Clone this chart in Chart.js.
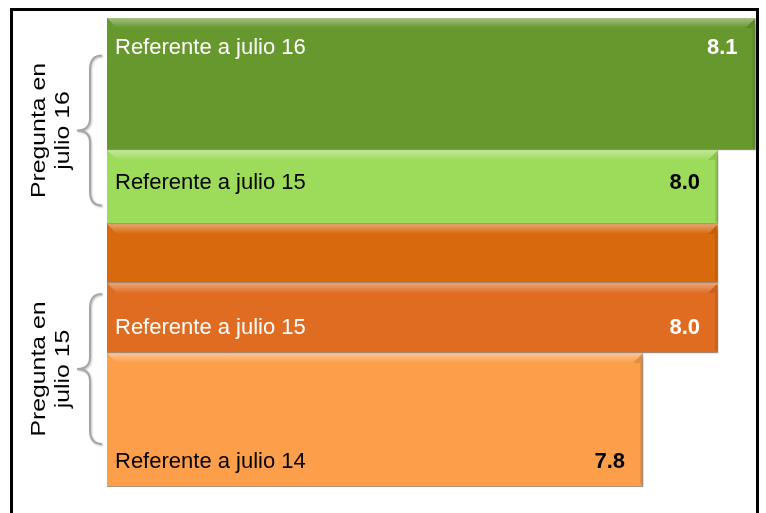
<!DOCTYPE html>
<html>
<head>
<meta charset="utf-8">
<script src="https://cdn.jsdelivr.net/npm/chart.js@4"></script>
<style>
  body { margin: 0; background: #fff; }
  #wrap { position: relative; width: 766px; height: 513px; overflow: hidden; }
  #frame { position: absolute; left: 10px; top: 8px; width: 743px; height: 520px; border: 3px solid #000; pointer-events: none; }
</style>
</head>
<body>
<div id="wrap">
  <canvas id="bars"></canvas>
  <div id="frame"></div>
</div>
<script>
// data
const barLabels = ['Referente a julio 16', 'Referente a julio 15', '', 'Referente a julio 15', 'Referente a julio 14'];
const barValues = [8.1, 8.0, 8.0, 8.0, 7.8];
const valueLabels = ['8.1', '8.0', '', '8.0', '7.8'];
const groupLabels = [['Pregunta en', 'julio 16'], ['Pregunta en', 'julio 15']];
const groupBars = [[0, 1], [3, 4]];

// style
const barColors = ['#67982e', '#9ddc5a', '#d86a0d', '#e06c22', '#fd9e4b'];
const textColors = ['#fff', '#000', '#fff', '#fff', '#000'];
const barHeights = [132, 74, 59, 70, 134];
const labelAnchor = ['top', 'middle', 'none', 'bottom', 'bottom'];

const totalHeight = barHeights.reduce((a, b) => a + b, 0);
const centers = [];
let acc = 0;
barHeights.forEach(h => { centers.push(acc + h / 2); acc += h; });

const shadowPlugin = {
  id: 'shadow',
  beforeDatasetsDraw(chart) {
    const ctx = chart.ctx;
    ctx.save();
    ctx.shadowColor = 'rgba(0,0,0,0.4)';
    ctx.shadowBlur = 6;
    ctx.shadowOffsetX = 3;
    ctx.shadowOffsetY = 3;
  },
  afterDatasetsDraw(chart) {
    const ctx = chart.ctx;
    ctx.restore();
    const left = chart.chartArea.left;

    // bevel highlights
    chart.data.datasets.forEach((ds, i) => {
      const bar = chart.getDatasetMeta(i).data[0];
      const { x, y, height } = bar.getProps(['x', 'y', 'height'], true);
      const top = y - height / 2;
      const g = ctx.createLinearGradient(0, top, 0, top + 10);
      g.addColorStop(0, 'rgba(255,255,255,0.4)');
      g.addColorStop(1, 'rgba(255,255,255,0)');
      ctx.fillStyle = g;
      ctx.beginPath();
      ctx.moveTo(left, top);
      ctx.lineTo(x, top);
      ctx.lineTo(x - 10, top + 10);
      ctx.lineTo(left + 10, top + 10);
      ctx.closePath();
      ctx.fill();
      ctx.fillStyle = 'rgba(0,0,0,0.1)';
      ctx.beginPath();
      ctx.moveTo(x, top);
      ctx.lineTo(x, top + height);
      ctx.lineTo(x - 3, top + height - 3);
      ctx.lineTo(x - 3, top + 10);
      ctx.lineTo(x - 10, top + 10);
      ctx.closePath();
      ctx.fill();
    });

    // bar texts
    chart.data.datasets.forEach((ds, i) => {
      if (!barLabels[i]) return;
      const bar = chart.getDatasetMeta(i).data[0];
      const { x, y, height } = bar.getProps(['x', 'y', 'height'], true);
      let ty = y;
      if (labelAnchor[i] === 'top') ty = y - height / 2 + 30;
      if (labelAnchor[i] === 'middle') ty = y - 4;
      if (labelAnchor[i] === 'bottom') ty = y + height / 2 - 25;
      ctx.save();
      ctx.fillStyle = textColors[i];
      ctx.textBaseline = 'middle';
      ctx.textAlign = 'left';
      ctx.font = '22px "Liberation Sans Narrow", "Arial Narrow", sans-serif';
      ctx.fillText(barLabels[i], left + 8, ty);
      ctx.textAlign = 'right';
      ctx.font = 'bold 22px "Liberation Sans", Arial, sans-serif';
      ctx.fillText(valueLabels[i], x - 18, ty);
      ctx.restore();
    });

    // group braces and rotated labels
    groupBars.forEach((pair, gi) => {
      const a = chart.getDatasetMeta(pair[0]).data[0].y;
      const b = chart.getDatasetMeta(pair[1]).data[0].y;
      const mid = (a + b) / 2 - (gi === 0 ? 5 : 0);
      const t = mid - 75, btm = mid + 75;
      const bx = 90;
      ctx.save();
      ctx.strokeStyle = '#a6a6a6';
      ctx.lineWidth = 2;
      ctx.shadowColor = 'rgba(0,0,0,0.25)';
      ctx.shadowBlur = 2;
      ctx.shadowOffsetX = 1;
      ctx.shadowOffsetY = 1;
      ctx.beginPath();
      ctx.moveTo(bx + 12, t);
      ctx.quadraticCurveTo(bx, t, bx, t + 14);
      ctx.lineTo(bx, mid - 12);
      ctx.quadraticCurveTo(bx, mid, bx - 13, mid);
      ctx.quadraticCurveTo(bx, mid, bx, mid + 12);
      ctx.lineTo(bx, btm - 14);
      ctx.quadraticCurveTo(bx, btm, bx + 12, btm);
      ctx.stroke();
      ctx.restore();

      ctx.save();
      ctx.translate(51, mid);
      ctx.rotate(-Math.PI / 2);
      ctx.scale(1.18, 1);
      ctx.fillStyle = '#000';
      ctx.font = '21px "Liberation Sans", Arial, sans-serif';
      ctx.textAlign = 'center';
      ctx.textBaseline = 'middle';
      ctx.fillText(groupLabels[gi][0], 0, -12);
      ctx.fillText(groupLabels[gi][1], 0, 12);
      ctx.restore();
    });
  }
};

new Chart(document.getElementById('bars'), {
  type: 'bar',
  data: {
    datasets: barValues.map((v, i) => ({
      label: barLabels[i] || 'serie',
      data: [{ x: v, y: centers[i] }],
      backgroundColor: barColors[i],
      borderColor: 'rgba(0,0,0,0.18)',
      borderWidth: { bottom: 1, right: 1 },
      borderSkipped: 'start',
      barThickness: barHeights[i],
      grouped: false,
    })),
  },
  options: {
    indexAxis: 'y',
    responsive: true,
    maintainAspectRatio: false,
    animation: false,
    layout: { padding: { left: 107, right: 3, top: 18, bottom: 513 - 18 - totalHeight } },
    scales: {
      x: { type: 'linear', min: 6.37, max: 8.12, display: false },
      y: { type: 'linear', min: 0, max: totalHeight, reverse: true, offset: false, display: false },
    },
    plugins: {
      legend: { display: false },
      tooltip: { enabled: false },
    },
  },
  plugins: [shadowPlugin],
});
</script>
</body>
</html>
